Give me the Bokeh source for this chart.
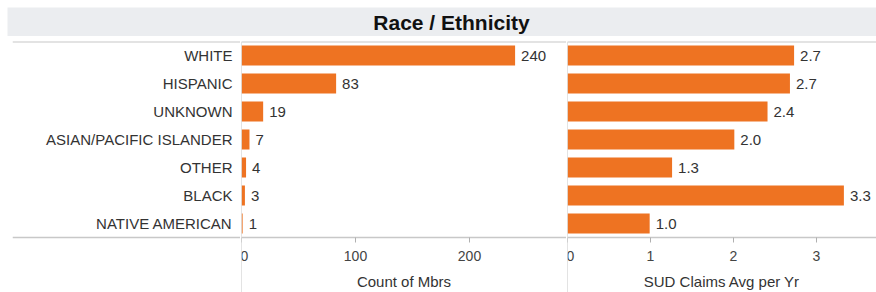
from bokeh.plotting import figure
from bokeh.models import (Range1d, Span, Label, LinearAxis, SingleIntervalTicker,
                          ColumnDataSource)
from bokeh.layouts import column, row
from bokeh.embed import file_html
from bokeh.resources import INLINE
from bokeh.core.properties import value

# ---------------- data ----------------
title_text = "Race / Ethnicity"
categories = ["WHITE", "HISPANIC", "UNKNOWN", "ASIAN/PACIFIC ISLANDER",
              "OTHER", "BLACK", "NATIVE AMERICAN"]
member_counts = [240, 83, 19, 7, 4, 3, 1]
sud_claims_avg = [2.73, 2.68, 2.41, 2.01, 1.26, 3.33, 0.99]
count_axis_title = "Count of Mbrs"
claims_axis_title = "SUD Claims Avg per Yr"
count_tick_step = 100
claims_tick_step = 1

# ---------------- styles ----------------
FONT = "Liberation Sans"
ORANGE = "#ee7322"
BAND = "#ebedf0"
LINE = "#c8c8c8"
TEXT = "#333333"

n = len(categories)
ypos = [n - 1 - i for i in range(n)]
src = ColumnDataSource(dict(
    cat=categories, y=ypos,
    cnt=member_counts, cnt_lbl=[str(v) for v in member_counts],
    avg=sud_claims_avg, avg_lbl=[f"{v:.1f}" for v in sud_claims_avg],
))

ROW_PX = 28
TOP_GAP = 5
FRAME_H = 251
H = FRAME_H + TOP_GAP
yr = Range1d(start=n - 0.5 - FRAME_H / ROW_PX, end=n - 0.5)


def base(width, x_range, border_left):
    f = figure(width=width, height=H, x_range=x_range, y_range=yr,
               output_backend="svg", toolbar_location=None,
               x_axis_location=None, y_axis_location=None,
               min_border_left=border_left, min_border_right=0,
               min_border_top=TOP_GAP, min_border_bottom=0,
               outline_line_color=None, background_fill_color="white",
               border_fill_color="white")
    f.grid.visible = False
    f.add_layout(Span(location=n - 0.5, dimension="width",
                      line_color=LINE, line_width=2))
    return f


# ---------------- title band ----------------
tf = figure(width=876, height=36, x_range=Range1d(0, 869), y_range=Range1d(0, 29),
            output_backend="svg", toolbar_location=None,
            x_axis_location=None, y_axis_location=None,
            min_border_left=7, min_border_top=7, min_border_right=0,
            min_border_bottom=0,
            outline_line_color=None, background_fill_color=BAND,
            border_fill_color="white")
tf.grid.visible = False
tf.add_layout(Label(x=444, y=14, text=title_text, text_align="center",
                    text_baseline="middle", text_font=FONT,
                    text_font_size="21px", text_font_style="bold",
                    text_color="#111111"))

# ---------------- category labels ----------------
lf = base(240, Range1d(0, 228), 12)
lf.text(x=220, y="y", text="cat", source=src, text_align="right",
        text_baseline="middle", text_font=value(FONT),
        text_font_size="15px", text_color=TEXT)
lf.add_layout(Span(location=-0.5, dimension="width", line_color=LINE,
                   line_width=1.5))


def add_axis(f, step, label):
    ax = LinearAxis(fixed_location=-0.5,
                    ticker=SingleIntervalTicker(interval=step, num_minor_ticks=0),
                    axis_label=label)
    ax.axis_line_color = LINE
    ax.axis_line_width = 1.5
    ax.major_tick_line_color = "#b0b0b0"
    ax.major_tick_out = 5
    ax.major_tick_in = 0
    ax.minor_tick_out = 0
    ax.minor_tick_in = 0
    ax.major_label_text_font = FONT
    ax.major_label_text_font_size = "14px"
    ax.major_label_text_color = "#444444"
    ax.major_label_standoff = 8
    ax.axis_label_text_font = FONT
    ax.axis_label_text_font_size = "15px"
    ax.axis_label_text_font_style = "normal"
    ax.axis_label_text_color = TEXT
    ax.axis_label_standoff = 9
    f.add_layout(ax, "below")
    f.add_layout(Span(location=0, dimension="height", line_color=LINE,
                      line_width=1))


# ---------------- panel 1: counts ----------------
p1 = base(326, Range1d(0, 325 / 1.14), 1)
p1.hbar(y="y", left=0, right="cnt", height=0.72, source=src,
        fill_color=ORANGE, line_color=None)
p1.text(x="cnt", y="y", text="cnt_lbl", source=src, x_offset=6,
        text_align="left", text_baseline="middle", text_font=value(FONT),
        text_font_size="15px", text_color=TEXT)
add_axis(p1, count_tick_step, count_axis_title)

# ---------------- panel 2: claims avg ----------------
p2 = base(310, Range1d(0, 309 / 83.0), 1)
p2.hbar(y="y", left=0, right="avg", height=0.72, source=src,
        fill_color=ORANGE, line_color=None)
p2.text(x="avg", y="y", text="avg_lbl", source=src, x_offset=6,
        text_align="left", text_baseline="middle", text_font=value(FONT),
        text_font_size="15px", text_color=TEXT)
add_axis(p2, claims_tick_step, claims_axis_title)

layout = column(tf, row(lf, p1, p2, spacing=0), spacing=0)

open("out.html", "w").write(file_html(layout, INLINE))
